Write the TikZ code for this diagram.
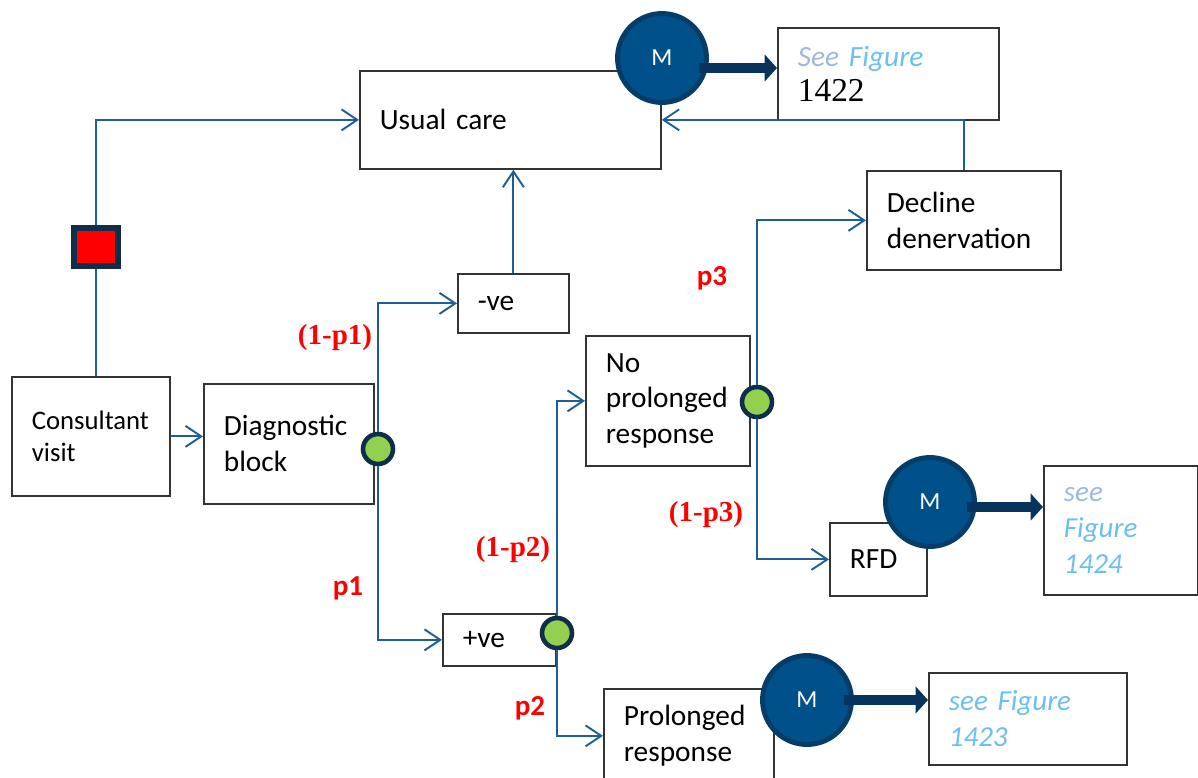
\documentclass[tikz,border=0pt]{standalone}
\usepackage{fontspec}
\setmainfont{Carlito}
\newfontfamily\timesfont{Liberation Serif}
\usepackage{tikz}
\usetikzlibrary{arrows.meta}
\definecolor{linkblue}{HTML}{1F5F96}
\definecolor{mblue}{HTML}{00508A}
\definecolor{mborder}{HTML}{063C68}
\definecolor{navy}{HTML}{06345C}
\definecolor{chancegreen}{HTML}{92D050}
\definecolor{chanceborder}{HTML}{0F2E4A}
\definecolor{seeblue}{HTML}{9DB9E3}
\definecolor{figblue}{HTML}{6DBEF5}
\tikzset{
	box/.style={draw=black!80,line width=1pt,fill=white,anchor=north west,align=left,inner xsep=0.4cm,inner ysep=0pt,font=\fontsize{16.7}{20.4}\selectfont},
	mnode/.style={circle,fill=mblue,draw=mborder,line width=2.8pt,minimum size=1.78cm,inner sep=0pt,text=white,font=\fontsize{14}{16}\selectfont},
	chance/.style={circle,fill=chancegreen,draw=chanceborder,line width=2.6pt,minimum size=0.6cm,inner sep=0pt},
	redsq/.style={rectangle,fill=red,draw=chanceborder,line width=3.4pt,minimum width=0.88cm,minimum height=0.76cm,inner sep=0pt},
	link/.style={draw=linkblue,line width=1.1pt},
	linkto/.style={link,-{Straight Barb[length=9pt,width=12pt]}},
	bigarrow/.style={draw=navy,line width=5.5pt,-{Triangle[length=7pt,width=15pt]},shorten <=-0.2cm},
	prob/.style={text=red,font=\timesfont\bfseries\fontsize{16.5}{18}\selectfont},
	probs/.style={text=red,font=\bfseries\fontsize{16.5}{18}\selectfont},
	figtext/.style={font=\itshape\fontsize{16.5}{20.4}\selectfont}
}

\begin{document}
\begin{tikzpicture}[x=0.02cm,y=-0.02cm]
	\useasboundingbox (0,0) rectangle (1198,778);
	% boxes
	\node [box,text width=5.22cm,minimum height=1.96cm] (usual) at (359,70) {Usual care};
	\node [box,text width=2.36cm,minimum height=2.38cm,font=\fontsize{15.2}{18.7}\selectfont] (cv) at (11,376) {Consultant\\visit};
	\node [box,text width=2.6cm,minimum height=2.4cm] (diag) at (203,383) {Diagnostic\\block};
	\node [box,text width=1.42cm,minimum height=1.18cm] (neg) at (457,273) {-ve};
	\node [box,text width=1.46cm,minimum height=1.04cm] (pos) at (442,613) {+ve};
	\node [box,text width=2.48cm,minimum height=2.6cm] (nopr) at (585,335) {No\\prolonged\\response};
	\node [box,text width=3.08cm,minimum height=1.98cm] (decl) at (866,170) {Decline\\denervation};
	\node [box,text width=1.14cm,minimum height=1.46cm] (rfd) at (829,522) {RFD};
	\node [box,text width=2.6cm,minimum height=1.88cm] (pr) at (603,688) {Prolonged\\response};
	\node [box,text width=3.62cm,minimum height=1.84cm] (fig1422) at (777,27) {\textit{\textcolor{seeblue}{See} \textcolor{figblue}{Figure}}\\{\timesfont\fontsize{19}{21}\selectfont 1422}};
	\node [box,text width=2.28cm,minimum height=2.58cm,figtext] (fig1424) at (1043,465) {\textcolor{seeblue}{see}\\\textcolor{figblue}{Figure}\\\textcolor{figblue}{1424}};
	\node [box,text width=3.16cm,minimum height=1.84cm,figtext,text=figblue] (fig1423) at (928,672) {see Figure\\1423};

	% Markov nodes
	\node [mnode] (m1) at (662,58) {M};
	\node [mnode] (m2) at (930,502) {M};
	\node [mnode] (m3) at (807,700) {M};

	% chance nodes and decision
	\node [redsq] (sq) at (96,247) {};
	\node [chance] (c1) at (378,449) {};
	\node [chance] (c2) at (557,633) {};
	\node [chance] (c3) at (757,402) {};

	\draw [link] (cv.north -| sq) -- (sq.south);
	\draw [linkto] (sq.north) |- (usual.west);
	\draw [linkto] (cv.east) -- (cv.east -| diag.west);
	\draw [linkto] (c1.north) |- (neg.west);
	\draw [linkto] (c1.south) |- (pos.west);
	\draw [linkto] (neg.north) -- (neg.north |- usual.south);
	\draw [linkto] (c2.north) |- (nopr.west);
	\draw [linkto] (c2.south) |- (pr.west);
	\draw [linkto] (c3.north) |- (decl.west);
	\draw [linkto] (c3.south) |- (rfd.west);
	\draw [linkto] (decl.north) |- (usual.east);

	\draw [bigarrow] ([yshift=-0.2cm]m1.east) -- ([yshift=-0.2cm]m1.east -| fig1422.west);
	\draw [bigarrow] ([yshift=-0.1cm]m2.east) -- ([yshift=-0.1cm]m2.east -| fig1424.west);
	\draw [bigarrow] (m3.east) -- (m3.east -| fig1423.west);

	% probabilities
	\node [prob] (l1) at (335,338) {(1-p1)};
	\node [probs] (l2) at (348,588) {p1};
	\node [prob] (l3) at (513,550) {(1-p2)};
	\node [probs] (l4) at (530,708) {p2};
	\node [probs] (l5) at (712,278) {p3};
	\node [prob] (l6) at (706,515) {(1-p3)};
\end{tikzpicture}
\end{document}
